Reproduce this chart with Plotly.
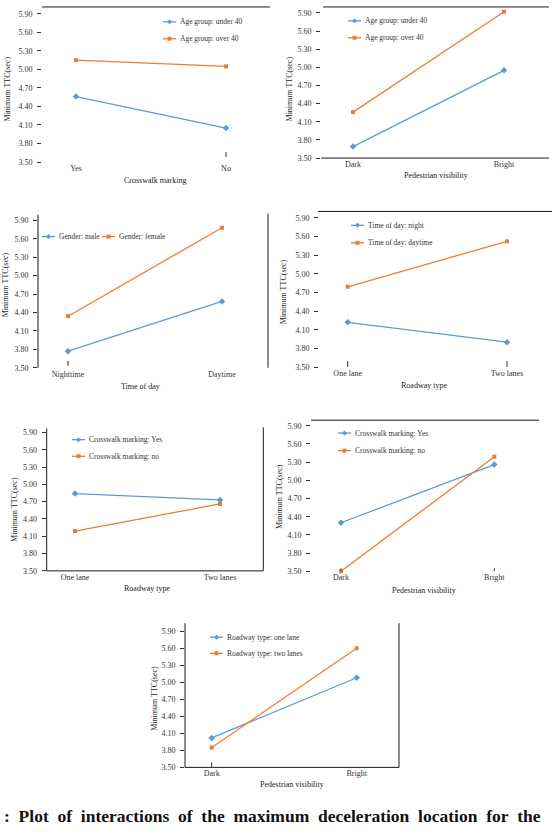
import plotly.graph_objects as go

W, H = 552, 836
FONT = "Liberation Serif, Times New Roman, serif"
BLUE = "#5B9BD5"
ORANGE = "#ED7D31"

# ---------------- data ----------------
p1_cats = ["Yes", "No"]
p1_s1 = [4.56, 4.05]
p1_s2 = [5.15, 5.05]
p1_names = ["Age group: under 40", "Age group: over 40"]
p1_xtitle = "Crosswalk marking"

p2_cats = ["Dark", "Bright"]
p2_s1 = [3.69, 4.95]
p2_s2 = [4.26, 5.92]
p2_names = ["Age group: under 40", "Age group: over 40"]
p2_xtitle = "Pedestrian visibility"

p3_cats = ["Nighttime", "Daytime"]
p3_s1 = [3.77, 4.58]
p3_s2 = [4.34, 5.78]
p3_names = ["Gender: male", "Gender: female"]
p3_xtitle = "Time of day"

p4_cats = ["One lane", "Two lanes"]
p4_s1 = [4.22, 3.90]
p4_s2 = [4.79, 5.52]
p4_names = ["Time of day: night", "Time of day: daytime"]
p4_xtitle = "Roadway type"

p5_cats = ["One lane", "Two lanes"]
p5_s1 = [4.84, 4.73]
p5_s2 = [4.19, 4.66]
p5_names = ["Crosswalk marking: Yes", "Crosswalk marking: no"]
p5_xtitle = "Roadway type"

p6_cats = ["Dark", "Bright"]
p6_s1 = [4.30, 5.26]
p6_s2 = [3.50, 5.39]
p6_names = ["Crosswalk marking: Yes", "Crosswalk marking: no"]
p6_xtitle = "Pedestrian visibility"

p7_cats = ["Dark", "Bright"]
p7_s1 = [4.02, 5.08]
p7_s2 = [3.85, 5.60]
p7_names = ["Roadway type: one lane", "Roadway type: two lanes"]
p7_xtitle = "Pedestrian visibility"

y_title = "Minimum TTC(sec)"
y_min, y_max, y_step = 3.5, 5.9, 0.3
y_pad = 0.1  # extra room above the top tick
caption = ": Plot of interactions of the maximum deceleration location for the"

DATA = [
    (p1_cats, p1_s1, p1_s2, p1_names, p1_xtitle),
    (p2_cats, p2_s1, p2_s2, p2_names, p2_xtitle),
    (p3_cats, p3_s1, p3_s2, p3_names, p3_xtitle),
    (p4_cats, p4_s1, p4_s2, p4_names, p4_xtitle),
    (p5_cats, p5_s1, p5_s2, p5_names, p5_xtitle),
    (p6_cats, p6_s1, p6_s2, p6_names, p6_xtitle),
    (p7_cats, p7_s1, p7_s2, p7_names, p7_xtitle),
]

# ---------------- geometry (pixels) ----------------
# l/r: plot box, yt/yb: pixel rows of 5.90 / 3.50, c0/c1: category centres
GEOM = [
    dict(l=42, r=270, yt=14, yb=163, c0=76, c1=226,
         lines=[(42, 7, 270, 7)], lg=[(163, 22), (163, 39)],
         ytx=7, yty=90, xtx=155, xty=182, ticks=[(1, 5, 10)]),
    dict(l=321, r=549, yt=13, yb=159, c0=353, c1=504,
         lines=[(323, 7, 549, 7), (321, 159, 549, 159)], lg=[(348, 21), (348, 38)],
         ytx=289, yty=90, xtx=436, xty=177, ticks=[]),
    dict(l=38, r=268, yt=221.7, yb=370, c0=68, c1=222,
         lines=[(38, 216, 38, 370), (268, 215, 268, 370)], lg=[(42, 238), (102, 238)],
         ytx=5, yty=287, xtx=140, xty=389, ticks=[(0, 2, 7)]),
    dict(l=319, r=552, yt=219, yb=369.3, c0=347.7, c1=507,
         lines=[(318, 212.7, 552, 212.7)], lg=[(351, 226.7), (351, 244.3)],
         ytx=283, yty=293, xtx=424, xty=388, ticks=[(0, 0, 6), (1, 0, 6)]),
    dict(l=46.7, r=263.3, yt=435, yb=574.3, c0=75, c1=220,
         lines=[(46.7, 431, 46.7, 574.3), (46.7, 574.3, 263.3, 574.3), (263.3, 430, 263.3, 574.3)],
         lg=[(72, 442.3), (72, 459)],
         ytx=15, yty=513, xtx=147, xty=592, ticks=[(0, -5, 0)]),
    dict(l=311, r=539, yt=428.3, yb=574.7, c0=341, c1=494.3,
         lines=[(311, 422.7, 539, 422.7)], lg=[(338, 435.7), (338, 453.3)],
         ytx=279, yty=500, xtx=424, xty=594, ticks=[(0, -2, 3), (1, -2, 3)]),
    dict(l=185, r=399, yt=635, yb=772, c0=211.7, c1=356.7,
         lines=[(185, 627, 185, 772), (185, 772, 399, 772), (399, 627, 399, 772)],
         lg=[(210, 641), (210, 657.3)],
         ytx=155, yty=703, xtx=291.7, xty=789, ticks=[(0, 0, 5)]),
]

STYLES = [dict(color=BLUE, symbol="diamond", size=5), dict(color=ORANGE, symbol="square", size=4)]


def px(x):
    return x / W


def py(y):
    return 1 - y / H


fig = go.Figure()
shapes, annotations = [], []
layout = dict(width=W, height=H, margin=dict(l=0, r=0, t=0, b=0),
              paper_bgcolor="white", plot_bgcolor="rgba(0,0,0,0)", showlegend=False)

for i, (g, (cats, s1, s2, names, xtitle)) in enumerate(zip(GEOM, DATA), start=1):
    sfx = "" if i == 1 else str(i)
    xa, ya = "x" + sfx, "y" + sfx
    span = g["c1"] - g["c0"]
    ppu = (g["yb"] - g["yt"]) / (y_max - y_min)
    top_px = g["yt"] - y_pad * ppu
    layout["xaxis" + sfx] = dict(
        domain=[px(g["l"]), px(g["r"])], anchor=ya, type="category",
        categoryarray=cats, range=[(g["l"] - g["c0"]) / span, 1 + (g["r"] - g["c1"]) / span],
        showgrid=False, zeroline=False, showline=False, ticks="",
        tickfont=dict(family=FONT, size=8, color="#333"), fixedrange=True)
    layout["yaxis" + sfx] = dict(
        domain=[py(g["yb"]), py(top_px)], anchor=xa, range=[y_min, y_max + y_pad],
        tick0=y_min, dtick=y_step, tickformat=".2f", ticks="outside", ticklen=4,
        tickcolor="#333", tickwidth=1, ticklabelstandoff=3,
        showgrid=False, zeroline=False, showline=False,
        tickfont=dict(family=FONT, size=8, color="#333"), fixedrange=True)

    for vals, name, st in zip((s1, s2), names, STYLES):
        fig.add_trace(go.Scatter(
            x=cats, y=vals, name=name, mode="lines+markers", xaxis=xa, yaxis=ya,
            line=dict(color=st["color"], width=1.3), cliponaxis=False,
            marker=dict(color=st["color"], symbol=st["symbol"], size=st["size"])))

    # decorative frame lines
    for (x0, y0, x1, y1) in g["lines"]:
        shapes.append(dict(type="line", xref="paper", yref="paper",
                           x0=px(x0), y0=py(y0), x1=px(x1), y1=py(y1),
                           line=dict(color="#1a1a1a", width=1)))
    # category tick marks
    for (ci, t0, t1) in g["ticks"]:
        shapes.append(dict(type="line", xref=xa, yref=ya, ysizemode="pixel", yanchor=y_min,
                           x0=ci, x1=ci, y0=t0, y1=t1, line=dict(color="#333", width=1)))

    # legend (manual)
    for (lx, ly), name, st in zip(g["lg"], names, STYLES):
        shapes.append(dict(type="line", xref="paper", yref="paper",
                           x0=px(lx), x1=px(lx + 13), y0=py(ly), y1=py(ly),
                           line=dict(color=st["color"], width=1.3)))
        s = st["size"] / 2
        cx = lx + 6.5
        if st["symbol"] == "diamond":
            path = (f"M{px(cx)},{py(ly - s)} L{px(cx + s)},{py(ly)} "
                    f"L{px(cx)},{py(ly + s)} L{px(cx - s)},{py(ly)} Z")
        else:
            path = (f"M{px(cx - s)},{py(ly - s)} L{px(cx + s)},{py(ly - s)} "
                    f"L{px(cx + s)},{py(ly + s)} L{px(cx - s)},{py(ly + s)} Z")
        shapes.append(dict(type="path", xref="paper", yref="paper", path=path,
                           fillcolor=st["color"], line=dict(width=0)))
        annotations.append(dict(text=name, xref="paper", yref="paper", x=px(lx + 15), y=py(ly),
                                xanchor="left", yanchor="middle", showarrow=False,
                                font=dict(family=FONT, size=7.5, color="#333")))

    # axis titles
    annotations.append(dict(text=y_title, xref="paper", yref="paper", x=px(g["ytx"]), y=py(g["yty"]),
                            xanchor="center", yanchor="middle", textangle=-90, showarrow=False,
                            font=dict(family=FONT, size=8, color="#222")))
    annotations.append(dict(text=xtitle, xref="paper", yref="paper", x=px(g["xtx"]), y=py(g["xty"]),
                            xanchor="center", yanchor="middle", showarrow=False,
                            font=dict(family=FONT, size=8, color="#222")))

annotations.append(dict(text="<b>" + caption.replace(" ", "\u00a0 ") + "</b>", xref="paper", yref="paper",
                        x=px(2), y=py(821), xanchor="left", yanchor="middle", showarrow=False,
                        font=dict(family=FONT, size=17.5, color="#111")))

layout["shapes"] = shapes
layout["annotations"] = annotations
fig.update_layout(**layout)
fig.write_html("out.html")
